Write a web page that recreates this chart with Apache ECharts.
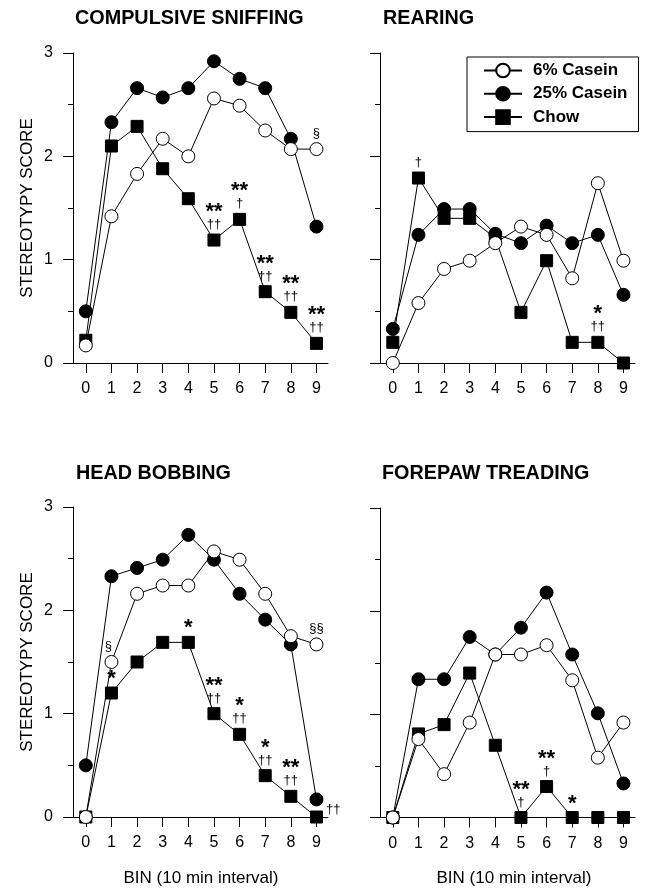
<!DOCTYPE html>
<html>
<head>
<meta charset="utf-8">
<script src="https://cdn.jsdelivr.net/npm/echarts@6/dist/echarts.min.js"></script>
<style>
html,body{margin:0;padding:0;background:#fff;}
#chart{width:645px;height:888px;}
</style>
</head>
<body>
<div id="chart"></div>
<script>
// ---------- DATA ----------
const bins = [0, 1, 2, 3, 4, 5, 6, 7, 8, 9];
const scoreTicks = [0, 1, 2, 3];
const seriesNames = ['6% Casein', '25% Casein', 'Chow'];
const panelTitles = ['COMPULSIVE SNIFFING', 'REARING', 'HEAD BOBBING', 'FOREPAW TREADING'];
const yAxisTitle = 'STEREOTYPY SCORE';
const xAxisTitle = 'BIN (10 min interval)';

// Compulsive sniffing
const sniffCasein6 = [0.17, 1.42, 1.83, 2.17, 2.00, 2.56, 2.49, 2.25, 2.07, 2.07];
const sniffCasein25 = [0.50, 2.33, 2.66, 2.57, 2.66, 2.92, 2.75, 2.66, 2.17, 1.32];
const sniffChow = [0.22, 2.10, 2.29, 1.88, 1.59, 1.19, 1.39, 0.69, 0.49, 0.19];
const sniffChowStars = ['', '', '', '', '', '**', '**', '**', '**', '**'];
const sniffChowDaggers = ['', '', '', '', '', '††', '†', '††', '††', '††'];
const sniffCasein6Marks = ['', '', '', '', '', '', '', '', '', '§'];

// Rearing
const rearCasein6 = [0.00, 0.58, 0.91, 0.99, 1.16, 1.32, 1.24, 0.82, 1.74, 0.99];
const rearCasein25 = [0.33, 1.24, 1.49, 1.49, 1.25, 1.16, 1.33, 1.16, 1.24, 0.66];
const rearChow = [0.20, 1.79, 1.40, 1.40, 1.21, 0.49, 0.99, 0.20, 0.20, 0.00];
const rearChowStars = ['', '', '', '', '', '', '', '', '*', ''];
const rearChowDaggers = ['', '†', '', '', '', '', '', '', '††', ''];

// Head bobbing
const headCasein6 = [0.00, 1.50, 2.16, 2.24, 2.24, 2.57, 2.49, 2.16, 1.75, 1.67];
const headCasein25 = [0.50, 2.33, 2.41, 2.49, 2.73, 2.49, 2.16, 1.91, 1.67, 0.17];
const headChow = [0.00, 1.20, 1.50, 1.69, 1.69, 1.00, 0.80, 0.40, 0.20, 0.00];
const headChowStars = ['', '*', '', '', '*', '**', '*', '*', '**', ''];
const headChowDaggers = ['', '', '', '', '', '††', '††', '††', '††', '††'];
const headCasein6Marks = ['', '§', '', '', '', '', '', '', '', '§§'];

// Forepaw treading
const foreCasein6 = [0.00, 0.76, 0.42, 0.92, 1.58, 1.58, 1.67, 1.33, 0.58, 0.92];
const foreCasein25 = [0.00, 1.34, 1.34, 1.75, 1.58, 1.84, 2.18, 1.58, 1.01, 0.33];
const foreChow = [0.00, 0.81, 0.90, 1.40, 0.70, 0.00, 0.30, 0.00, 0.00, 0.00];
const foreChowStars = ['', '', '', '', '', '**', '**', '*', '', ''];
const foreChowDaggers = ['', '', '', '', '', '†', '†', '', '', ''];

// ---------- STYLE / LAYOUT ----------
const FONT = '"Liberation Sans", Arial, Helvetica, sans-serif';
const BLACK = '#000';
const grids = [
  { left: 73, top: 53, width: 255, height: 310 },
  { left: 380, top: 53, width: 255, height: 310 },
  { left: 73, top: 507, width: 255, height: 310 },
  { left: 380, top: 508, width: 255, height: 309.5 }
];
const titlePos = [
  { left: 75, top: 9 }, { left: 383, top: 9 },
  { left: 76, top: 464 }, { left: 382, top: 464 }
];

function sigText(stars, daggers) {
  const parts = [];
  if (stars) parts.push('{s|' + stars + '}');
  if (daggers) parts.push('{d|' + daggers + '}');
  return parts.join('\n');
}

const labelRich = {
  s: { fontSize: 22, fontWeight: 'bold', lineHeight: 11, fontFamily: FONT, color: BLACK },
  d: { fontSize: 13, lineHeight: 14, fontFamily: FONT, color: BLACK }
};

function makeSeries(panel, kind, values, stars, daggers, opts) {
  opts = opts || {};
  const isChow = kind === 2;
  const data = values.map(function (v, k) {
    const txt = sigText(stars ? stars[k] : '', daggers ? daggers[k] : '');
    const item = { value: [bins[k], v] };
    if (txt) {
      item.label = { show: true, formatter: txt };
      if (opts.rightAt === k) {
        item.label.position = 'right';
        item.label.offset = [0, -8];
        item.label.distance = 3;
      }
      if (opts.offsetAt === k) {
        item.label.offset = [-3, 0];
      }
    }
    return item;
  });
  return {
    type: 'line',
    name: seriesNames[kind],
    xAxisIndex: panel,
    yAxisIndex: panel,
    data: data,
    symbol: isChow ? 'rect' : 'circle',
    symbolSize: isChow ? 12 : 13,
    showSymbol: true,
    showAllSymbol: true,
    animation: false,
    lineStyle: { color: BLACK, width: 1 },
    itemStyle: {
      color: kind === 0 ? '#fff' : BLACK,
      borderColor: BLACK,
      borderWidth: 1
    },
    emphasis: { disabled: true },
    label: {
      show: false,
      position: 'top',
      distance: 2,
      color: BLACK,
      fontFamily: FONT,
      rich: labelRich
    },
    z: 4 - kind
  };
}

const series = [
  makeSeries(0, 2, sniffChow, sniffChowStars, sniffChowDaggers),
  makeSeries(0, 1, sniffCasein25),
  makeSeries(0, 0, sniffCasein6, null, sniffCasein6Marks),
  makeSeries(1, 2, rearChow, rearChowStars, rearChowDaggers),
  makeSeries(1, 1, rearCasein25),
  makeSeries(1, 0, rearCasein6),
  makeSeries(2, 2, headChow, headChowStars, headChowDaggers, { rightAt: 9 }),
  makeSeries(2, 1, headCasein25),
  makeSeries(2, 0, headCasein6, null, headCasein6Marks, { offsetAt: 1 }),
  makeSeries(3, 2, foreChow, foreChowStars, foreChowDaggers),
  makeSeries(3, 1, foreCasein25),
  makeSeries(3, 0, foreCasein6)
];

const xAxes = grids.map(function (g, i) {
  return {
    gridIndex: i,
    type: 'value',
    min: -0.5,
    max: 9.45,
    axisLine: { show: true, onZero: false, lineStyle: { color: BLACK, width: 1 } },
    axisTick: { show: true, customValues: bins, length: 10, lineStyle: { color: BLACK, width: 1 } },
    axisLabel: { show: true, customValues: bins, margin: 18, color: BLACK, fontSize: 16, fontFamily: FONT },
    splitLine: { show: false }
  };
});

const yAxes = grids.map(function (g, i) {
  const showLab = i % 2 === 0;
  return {
    gridIndex: i,
    type: 'value',
    min: scoreTicks[0],
    max: scoreTicks[scoreTicks.length - 1],
    interval: 1,
    axisLine: { show: true, onZero: false, lineStyle: { color: BLACK, width: 1 } },
    axisTick: { show: true, length: 10, lineStyle: { color: BLACK, width: 1 } },
    minorTick: { show: true, splitNumber: 2, length: 5, lineStyle: { color: BLACK, width: 1 } },
    minorSplitLine: { show: false },
    splitLine: { show: false },
    axisLabel: { show: showLab, margin: 20, color: BLACK, fontSize: 16, fontFamily: FONT },
    name: showLab ? yAxisTitle : '',
    nameLocation: 'middle',
    nameGap: 37,
    nameTextStyle: { color: BLACK, fontSize: 17, fontFamily: FONT }
  };
});

const titles = panelTitles.map(function (t, i) {
  return {
    text: t,
    left: titlePos[i].left,
    top: titlePos[i].top,
    padding: 0,
    textStyle: { fontSize: 19.8, fontWeight: 'bold', color: BLACK, fontFamily: FONT }
  };
}).concat([
  { text: xAxisTitle, left: 201, top: 870, textAlign: 'center', padding: 0,
    textStyle: { fontSize: 17, fontWeight: 'normal', color: BLACK, fontFamily: FONT } },
  { text: xAxisTitle, left: 514, top: 870, textAlign: 'center', padding: 0,
    textStyle: { fontSize: 17, fontWeight: 'normal', color: BLACK, fontFamily: FONT } }
]);

const chart = echarts.init(document.getElementById('chart'), null, { renderer: 'canvas' });
chart.setOption({
  backgroundColor: '#fff',
  animation: false,
  title: titles,
  legend: {
    data: seriesNames,
    orient: 'vertical',
    left: 467,
    top: 57,
    itemWidth: 38,
    itemHeight: 17,
    itemGap: 6.3,
    padding: [5, 11, 6, 16],
    borderColor: BLACK,
    borderWidth: 1,
    selectedMode: false,
    textStyle: { fontSize: 17, fontWeight: 'bold', color: BLACK, fontFamily: FONT, padding: [0, 0, 0, 6] }
  },
  grid: grids,
  xAxis: xAxes,
  yAxis: yAxes,
  series: series
});
</script>
</body>
</html>
